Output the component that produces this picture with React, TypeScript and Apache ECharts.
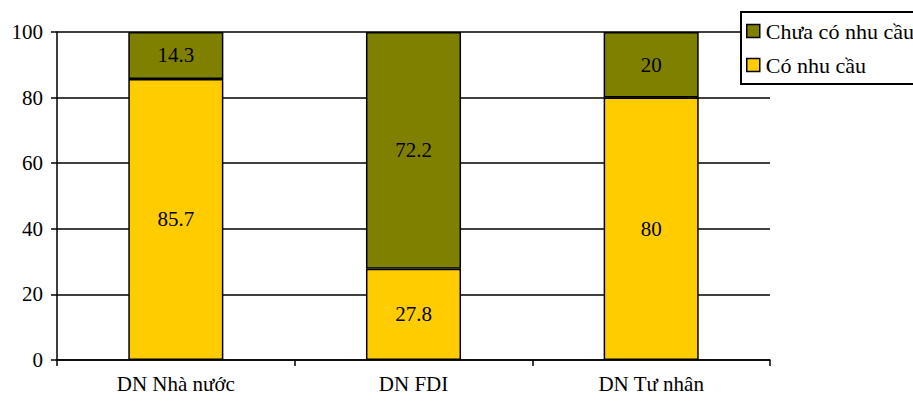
import React, { useEffect, useRef } from "react";
import * as echarts from "echarts";

const categories = ["DN Nhà nước", "DN FDI", "DN Tư nhân"];
const coNhuCau = [85.7, 27.8, 80];
const chuaCoNhuCau = [14.3, 72.2, 20];
const yTicks = { min: 0, max: 100, interval: 20 };

const FONT = '"Liberation Serif", "Times New Roman", serif';

export default function App() {
  const ref = useRef<HTMLDivElement>(null);
  useEffect(() => {
    document.body.style.margin = "0";
    const chart = echarts.init(ref.current!, null, { renderer: "svg" });
    const labelStyle = {
      show: true,
      position: "inside" as const,
      color: "#000",
      fontFamily: FONT,
      fontSize: 21,
    };
    chart.setOption({
      animation: false,
      backgroundColor: "#fff",
      textStyle: { fontFamily: FONT },
      grid: { left: 57, top: 32, right: 143, bottom: 41, containLabel: false },
      legend: {
        orient: "vertical",
        left: 741,
        top: 12,
        data: ["Chưa có nhu cầu", "Có nhu cầu"],
        backgroundColor: "#fff",
        borderColor: "#000",
        borderWidth: 2,
        borderRadius: 0,
        padding: [8, 30, 8, 5],
        itemWidth: 13,
        itemHeight: 13,
        itemGap: 12,
        icon: "rect",
        itemStyle: { borderColor: "#000", borderWidth: 1.5 },
        textStyle: { fontFamily: FONT, fontSize: 22, color: "#000", lineHeight: 21, padding: [0, 0, 0, 1] },
        z: 10,
      },
      xAxis: {
        type: "category",
        data: categories,
        axisLine: { lineStyle: { color: "#000", width: 1.5 } },
        axisTick: { show: true, interval: 0, alignWithLabel: false, length: 6, lineStyle: { color: "#000", width: 1.5 } },
        axisLabel: { color: "#000", fontFamily: FONT, fontSize: 21, margin: 13, interval: 0 },
      },
      yAxis: {
        type: "value",
        min: yTicks.min,
        max: yTicks.max,
        interval: yTicks.interval,
        axisLine: { show: true, lineStyle: { color: "#000", width: 1.5 } },
        axisTick: { show: true, length: 6, lineStyle: { color: "#000", width: 1.5 } },
        axisLabel: { color: "#000", fontFamily: FONT, fontSize: 21, margin: 14 },
        splitLine: { show: true, lineStyle: { color: "#000", width: 1.5 } },
      },
      series: [
        {
          name: "Có nhu cầu",
          type: "bar",
          stack: "total",
          barWidth: "40%",
          data: coNhuCau,
          itemStyle: { color: "#FFCC00", borderColor: "#000", borderWidth: 1.5 },
          label: labelStyle,
        },
        {
          name: "Chưa có nhu cầu",
          type: "bar",
          stack: "total",
          barWidth: "40%",
          data: chuaCoNhuCau,
          itemStyle: { color: "#808000", borderColor: "#000", borderWidth: 1.5 },
          label: labelStyle,
        },
      ],
    });
    return () => chart.dispose();
  }, []);
  return <div ref={ref} style={{ width: 913, height: 401, position: "absolute", left: 0, top: 0 }} />;
}
